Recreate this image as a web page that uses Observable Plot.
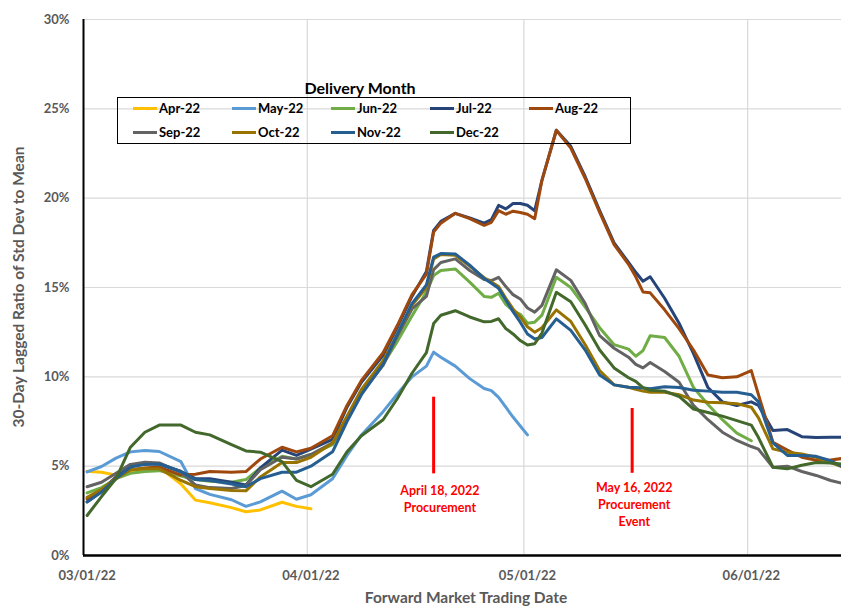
<!DOCTYPE html>
<html>
<head>
<meta charset="utf-8">
<script src="https://cdn.jsdelivr.net/npm/d3@7"></script>
<script src="https://cdn.jsdelivr.net/npm/@observablehq/plot@0.6"></script>
<style>
  html, body { margin: 0; padding: 0; background: #fff; }
  #wrap { position: relative; width: 841px; height: 606px; overflow: hidden; font-family: Lato, "Open Sans", sans-serif; }
  #wrap svg { position: absolute; left: 0; top: 0; }
  .abs { position: absolute; white-space: nowrap; font-weight: bold; }
  .legbox { position: absolute; left: 117px; top: 97px; width: 512px; height: 45px; border: 1px solid #000; }
  .sw { position: absolute; width: 24px; height: 3px; }
  .lab { position: absolute; font-size: 13px; font-weight: bold; color: #000; line-height: 14px; white-space: nowrap; }
</style>
</head>
<body>
<div id="wrap"></div>
<script>
// ---- data (percent values) ----
const dates = [
  "2022-03-01","2022-03-03","2022-03-05","2022-03-07","2022-03-09","2022-03-11","2022-03-14","2022-03-16","2022-03-18","2022-03-21","2022-03-23","2022-03-25","2022-03-28","2022-03-30","2022-04-01",
  "2022-04-04","2022-04-06","2022-04-08","2022-04-11","2022-04-13","2022-04-15","2022-04-17","2022-04-18","2022-04-19","2022-04-21","2022-04-23","2022-04-25","2022-04-26","2022-04-27","2022-04-28","2022-04-29","2022-04-30","2022-05-01","2022-05-02","2022-05-03","2022-05-05",
  "2022-05-07","2022-05-09","2022-05-11","2022-05-13","2022-05-15","2022-05-16","2022-05-17","2022-05-18","2022-05-20","2022-05-22","2022-05-24","2022-05-26","2022-05-28","2022-05-30","2022-06-01","2022-06-02","2022-06-04","2022-06-06","2022-06-08","2022-06-10","2022-06-12","2022-06-14"
];

const apr22 = [4.72,4.66,4.5,4.66,4.85,4.94,4.0,3.1,2.95,2.68,2.45,2.55,2.98,2.75,2.62];

const may22 = [4.68,4.98,5.45,5.8,5.88,5.82,5.25,3.75,3.42,3.12,2.75,3.0,3.6,3.15,3.4,
  4.3,5.6,6.75,8.05,9.05,10.0,10.6,11.38,11.1,10.6,9.9,9.35,9.23,8.85,8.3,7.75,7.25,6.75];

const jun22 = [3.5,3.8,4.3,4.6,4.7,4.75,4.45,4.25,4.15,4.1,4.25,4.9,5.55,5.4,5.65,
  6.2,7.6,9.1,10.7,12.0,13.4,14.75,15.67,15.95,16.04,15.3,14.5,14.45,14.68,14.05,13.7,13.5,13.0,13.06,13.45,15.57,
  15.0,13.9,12.75,11.8,11.55,11.15,11.47,12.3,12.2,11.15,9.4,8.45,7.6,6.85,6.42];

const jul22 = [3.0,3.6,4.4,5.0,5.15,5.12,4.7,4.3,4.3,4.1,3.95,4.9,5.9,5.6,5.95,
  6.5,8.3,9.7,11.2,12.8,14.5,15.9,18.2,18.7,19.15,18.9,18.6,18.8,19.6,19.4,19.7,19.7,19.6,19.3,21.0,23.8,
  22.9,21.2,19.3,17.5,16.4,15.85,15.35,15.6,14.4,13.0,11.3,9.4,8.6,8.4,8.6,8.4,7.0,7.05,6.65,6.6,6.62,6.62];

const aug22 = [3.17,3.65,4.35,4.8,4.9,4.95,4.5,4.55,4.7,4.66,4.7,5.4,6.06,5.8,6.0,
  6.7,8.4,9.8,11.35,12.9,14.6,15.75,18.1,18.6,19.15,18.85,18.47,18.65,19.3,19.1,19.27,19.2,19.1,18.85,21.0,23.8,
  22.8,21.1,19.2,17.4,16.3,15.6,14.75,14.7,13.75,12.7,11.5,10.1,9.95,10.0,10.35,9.0,6.34,5.9,5.5,5.33,5.35,5.45];

const sep22 = [3.85,4.1,4.6,5.1,5.22,5.18,4.65,3.95,3.8,3.75,3.92,4.8,5.5,5.4,5.65,
  6.3,7.7,9.1,10.65,12.3,13.8,14.5,16.0,16.4,16.6,15.95,15.45,15.39,15.57,15.05,14.6,14.36,13.85,13.62,14.0,15.99,
  15.4,14.1,12.3,11.6,11.1,10.7,10.5,10.8,10.3,9.7,8.4,7.6,6.9,6.44,6.1,5.95,4.94,5.0,4.7,4.48,4.2,4.0];

const oct22 = [3.26,3.7,4.3,4.8,4.85,4.85,4.2,3.85,3.75,3.64,3.62,4.4,5.2,5.2,5.5,
  6.3,7.8,9.3,10.9,12.4,14.0,15.0,16.6,16.85,16.8,16.2,15.55,15.3,15.05,14.4,13.8,13.35,12.8,12.5,12.75,13.75,
  13.1,11.8,10.35,9.55,9.42,9.3,9.2,9.14,9.14,9.0,8.7,8.58,8.55,8.5,8.3,7.7,5.97,5.78,5.68,5.5,5.2,4.9];

const nov22 = [3.0,3.55,4.3,4.95,5.1,5.12,4.7,4.25,4.2,4.0,3.85,4.3,4.66,4.66,5.0,
  5.8,7.5,9.0,10.7,12.4,14.1,15.15,16.7,16.9,16.88,16.25,15.5,15.24,14.95,14.3,13.65,13.06,12.4,12.12,12.2,13.24,
  12.6,11.5,10.1,9.55,9.42,9.4,9.38,9.33,9.45,9.4,9.25,9.2,9.14,9.14,9.0,8.6,6.3,5.6,5.6,5.55,5.3,4.9];

const dec22 = [2.24,3.3,4.3,6.06,6.9,7.3,7.3,6.9,6.75,6.2,5.85,5.78,5.25,4.2,3.85,
  4.55,5.8,6.7,7.6,8.8,10.2,11.35,12.98,13.45,13.7,13.35,13.08,13.1,13.25,12.7,12.4,12.03,11.78,11.85,12.45,14.73,
  14.2,12.9,11.5,10.5,9.95,9.75,9.4,9.25,9.2,8.9,8.2,8.0,7.8,7.55,7.3,6.6,4.94,4.85,5.05,5.2,5.18,5.1];

const seriesNames = ["Apr-22","May-22","Jun-22","Jul-22","Aug-22","Sep-22","Oct-22","Nov-22","Dec-22"];
const seriesValues = [apr22, may22, jun22, jul22, aug22, sep22, oct22, nov22, dec22];
const seriesColors = ["#FFC000","#5B9BD5","#70AD47","#264478","#9E480E","#636363","#997300","#255E91","#43682B"];

const yTicks = [0, 5, 10, 15, 20, 25, 30];
const xTickDates = ["2022-03-01","2022-04-01","2022-05-01","2022-06-01"];

const eventDates = ["2022-04-18T12:00","2022-05-16T00:00"];
const eventLow = [4.57, 4.6];
const eventHigh = [8.86, 8.23];
const eventLabelDates = ["2022-04-19T09:00","2022-05-16T07:00"];
const eventLabelY = [3.22, 2.91];
const eventLabels = ["April 18, 2022\nProcurement", "May 16, 2022\nProcurement\nEvent"];

// ---- build table ----
const parse = d3.utcParse("%Y-%m-%d");
const parseT = d3.utcParse("%Y-%m-%dT%H:%M");
const HALF_DAY = 12 * 3600 * 1000;
const rows = [];
seriesNames.forEach((name, k) => {
  seriesValues[k].forEach((v, i) => {
    if (v != null) rows.push({date: new Date(+parse(dates[i]) + HALF_DAY), month: name, value: v});
  });
});
const events = eventDates.map((d, i) => ({x: parseT(d), y1: eventLow[i], y2: eventHigh[i]}));
const eventText = eventLabelDates.map((d, i) => ({x: parseT(d), y: eventLabelY[i], text: eventLabels[i]}));
const gridDates = xTickDates.slice(1).map(parse);
const tickDates = xTickDates.map(d => new Date(+parse(d) + HALF_DAY));

const chart = Plot.plot({
  width: 841,
  height: 606,
  marginLeft: 83,
  marginRight: 0,
  marginTop: 19,
  marginBottom: 51,
  style: {fontFamily: "Lato, 'Open Sans', sans-serif", fontSize: "13px", fontWeight: "bold", color: "#595959", background: "transparent", overflow: "visible"},
  x: {type: "utc", domain: [parse("2022-03-01"), parse("2022-06-14")], ticks: tickDates, tickFormat: d3.utcFormat("%m/%d/%y"), tickSize: 0, tickPadding: 15, label: null},
  y: {domain: [0, 30], ticks: yTicks, tickFormat: d => d + "%", tickSize: 0, tickPadding: 14, label: null},
  color: {domain: seriesNames, range: seriesColors},
  marks: [
    Plot.ruleY(yTicks.filter(d => d > 0), {stroke: "#d9d9d9", strokeWidth: 1.2}),
    Plot.ruleX(gridDates, {stroke: "#d9d9d9", strokeWidth: 1.2}),
    Plot.line(rows, {x: "date", y: "value", z: "month", stroke: "month", strokeWidth: 3, strokeLinejoin: "round", strokeLinecap: "round", clip: true}),
    Plot.ruleX([parse("2022-03-01")], {stroke: "#000", strokeWidth: 2}),
    Plot.ruleY([0], {stroke: "#000", strokeWidth: 2.5}),
    Plot.ruleX(events, {x: "x", y1: "y1", y2: "y2", stroke: "#FF0000", strokeWidth: 3}),
    Plot.text(eventText, {x: "x", y: "y", text: "text", fill: "#FF0000", fontSize: 12.5, fontWeight: "bold", lineHeight: 1.36, textAnchor: "middle", lineAnchor: "middle"})
  ]
});

const wrap = document.getElementById("wrap");
wrap.appendChild(chart);

function addDiv(cls, text, styles) {
  const el = document.createElement("div");
  el.className = cls;
  if (text != null) el.textContent = text;
  Object.assign(el.style, styles);
  wrap.appendChild(el);
  return el;
}

// axis titles
addDiv("abs", "30-Day Lagged Ratio of Std Dev to Mean", {left: "18px", top: "287px", transform: "translate(-50%,-50%) rotate(-90deg)", fontSize: "15.5px", color: "#595959"});
addDiv("abs", "Forward Market Trading Date", {left: "466px", top: "597px", transform: "translate(-50%,-50%)", fontSize: "15.5px", color: "#595959"});

// legend
addDiv("abs", "Delivery Month", {left: "360px", top: "87px", transform: "translate(-50%,-50%)", fontSize: "16px", color: "#000"});
addDiv("legbox", null, {});
seriesNames.forEach((name, k) => {
  const col = k < 5 ? k : k - 5;
  const row = k < 5 ? 0 : 1;
  const x = 133 + 99 * col;
  const y = row === 0 ? 108 : 132;
  addDiv("sw", null, {left: x + "px", top: (y - 1.5) + "px", background: seriesColors[k]});
  addDiv("lab", name, {left: (x + 26) + "px", top: (y - 7) + "px"});
});
</script>
</body>
</html>
